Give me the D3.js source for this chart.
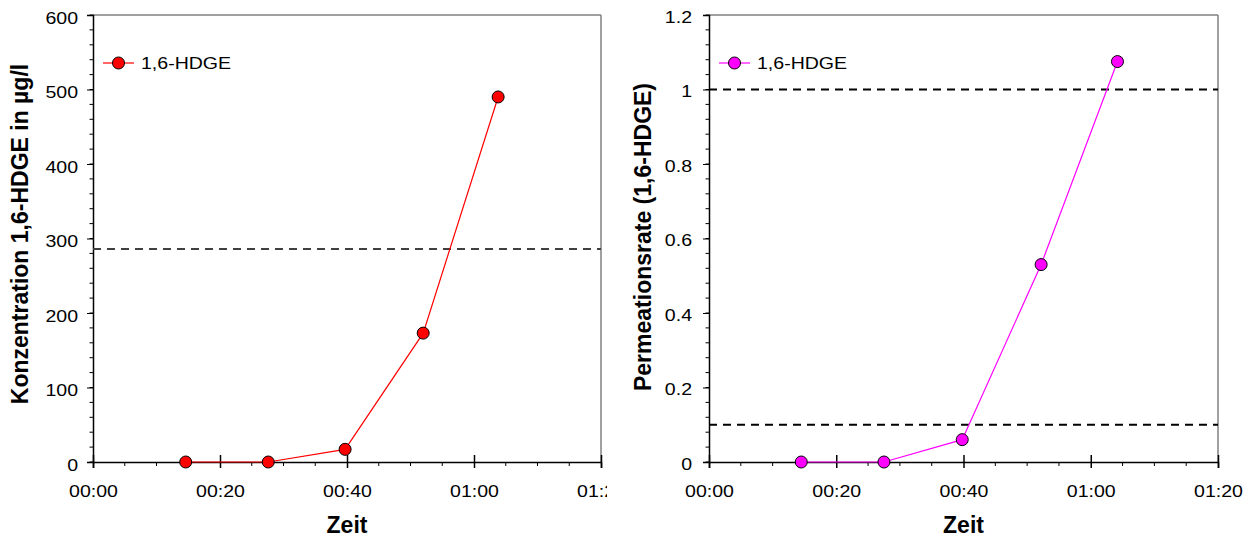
<!DOCTYPE html>
<html><head><meta charset="utf-8">
<script src="https://cdn.jsdelivr.net/npm/d3@7"></script>
<style>body{margin:0;background:#fff}svg{display:block}text{font-family:"Liberation Sans",Arial,sans-serif}</style>
</head><body>
<svg id="c" width="1256" height="538"></svg>
<script>
// Data (time in minutes)
const timesLeft = [14.6, 27.6, 39.7, 52.0, 63.8];
const concValues = [0, 0, 17, 173, 490];
const concLimit = [286];
const timesRight = [14.5, 27.5, 39.8, 52.2, 64.2];
const rateValues = [0, 0, 0.06, 0.53, 1.075];
const rateLimits = [1.0, 0.1];
const xTickValues = [0, 20, 40, 60, 80];
const xTickLabels = ["00:00", "00:20", "00:40", "01:00", "01:20"];
const leftYTicks = [0, 100, 200, 300, 400, 500, 600];
const rightYTicks = [0, 0.2, 0.4, 0.6, 0.8, 1, 1.2];
const rightYLabels = ["0", "0.2", "0.4", "0.6", "0.8", "1", "1.2"];
const seriesName = "1,6-HDGE";

const svg = d3.select("#c");
const FS = 17, SX = 1.15, TFS = 23;

function stretch(sel) {
  sel.each(function () {
    const t = d3.select(this);
    const x = +t.attr("x") || 0;
    t.attr("transform", `translate(${x},0) scale(${SX},1) translate(${-x},0)`);
  });
}

function panel(opt) {
  const g = svg.append("g");
  if (opt.clip) {
    svg.append("defs").append("clipPath").attr("id", opt.id)
      .append("rect").attr("x", 0).attr("y", 0).attr("width", opt.clip).attr("height", 538);
    g.attr("clip-path", `url(#${opt.id})`);
  }
  const x = d3.scaleLinear().domain([0, 80]).range([opt.x0, opt.x1]);
  const y = d3.scaleLinear().domain(opt.yDomain).range([opt.y1, opt.y0]);

  // frame (top/right gray)
  g.append("line").attr("x1", opt.x0).attr("x2", opt.x1).attr("y1", opt.y0).attr("y2", opt.y0).attr("stroke", "#808080").attr("stroke-width", 1.5);
  g.append("line").attr("x1", opt.x1).attr("x2", opt.x1).attr("y1", opt.y0).attr("y2", opt.y1).attr("stroke", "#808080").attr("stroke-width", 1.5);

  // y minor ticks
  const yMinor = d3.range(0, opt.yDomain[1] + 1e-9, opt.yMinorStep);
  g.selectAll(".ymin").data(yMinor).join("line")
    .attr("x1", opt.x0 - 3.5).attr("x2", opt.x0).attr("y1", d => y(d)).attr("y2", d => y(d))
    .attr("stroke", "#000").attr("stroke-width", 1);
  // y axis
  const yAxis = d3.axisLeft(y).tickValues(opt.yTicks).tickFormat((d, i) => opt.yLabels[i]).tickSize(6).tickPadding(opt.yPad);
  const ya = g.append("g").attr("transform", `translate(${opt.x0},0)`).call(yAxis);
  ya.select(".domain").attr("stroke", "#000").attr("stroke-width", 1.5);
  ya.selectAll("text").attr("font-size", FS).attr("fill", "#000").attr("dy", opt.yDy).style("font-family", "Liberation Sans, Arial").call(stretch);

  // x minor ticks
  const xMinor = d3.range(0, 81, 5).filter(d => d % 20 !== 0);
  g.selectAll(".xmin").data(xMinor).join("line")
    .attr("x1", d => x(d)).attr("x2", d => x(d)).attr("y1", opt.y1).attr("y2", opt.y1 + 4)
    .attr("stroke", "#000").attr("stroke-width", 1);
  // x axis
  const xAxis = d3.axisBottom(x).tickValues(xTickValues).tickFormat((d, i) => xTickLabels[i]).tickSize(6).tickPadding(17);
  const xa = g.append("g").attr("transform", `translate(0,${opt.y1})`).call(xAxis);
  xa.select(".domain").attr("stroke", "#000").attr("stroke-width", 1.5);
  xa.selectAll(".tick line").attr("y1", -7).attr("stroke-width", 1.5);
  xa.selectAll("text").attr("font-size", FS).attr("fill", "#000").style("font-family", "Liberation Sans, Arial").call(stretch);

  // limit lines
  g.selectAll(".lim").data(opt.limits).join("line")
    .attr("x1", opt.x0).attr("x2", opt.x1).attr("y1", d => y(d)).attr("y2", d => y(d))
    .attr("stroke", opt.limitColor).attr("stroke-width", 2).attr("stroke-dasharray", "8,6");

  // series
  const pts = opt.times.map((t, i) => [t, opt.values[i]]);
  g.append("path").datum(pts)
    .attr("d", d3.line().x(d => x(d[0])).y(d => y(d[1])))
    .attr("fill", "none").attr("stroke", opt.color).attr("stroke-width", 1.2);
  g.selectAll(".pt").data(pts).join("circle")
    .attr("cx", d => x(d[0])).attr("cy", d => y(d[1])).attr("r", 6)
    .attr("fill", opt.color).attr("stroke", "#000").attr("stroke-width", 1);

  // legend
  const lx = opt.x0 + 10, ly = 63;
  g.append("line").attr("x1", lx).attr("x2", lx + 31).attr("y1", ly).attr("y2", ly).attr("stroke", opt.color).attr("stroke-width", 1.2);
  g.append("circle").attr("cx", lx + 15.5).attr("cy", ly).attr("r", 6).attr("fill", opt.color).attr("stroke", "#000").attr("stroke-width", 1);
  g.append("text").attr("x", lx + 38).attr("y", ly).attr("dy", "0.36em").attr("font-size", FS).text(seriesName).call(stretch);

  // titles
  g.append("text").attr("x", (opt.x0 + opt.x1) / 2).attr("y", 533).attr("text-anchor", "middle")
    .attr("font-size", TFS).attr("font-weight", "bold").text("Zeit");
  g.append("text").attr("transform", `translate(${opt.titleX},${opt.titleY}) rotate(-90)`)
    .attr("text-anchor", "middle").attr("font-size", TFS).attr("font-weight", "bold").text(opt.yTitle);
}

panel({ id: "clipL", clip: 607, x0: 93, x1: 601, y0: 15, y1: 462, yDomain: [0, 600], yMinorStep: 20,
  yTicks: leftYTicks, yLabels: leftYTicks.map(String), yPad: 9, yDy: "0.48em",
  times: timesLeft, values: concValues, color: "#ff0000", limits: concLimit, limitColor: "#404040",
  yTitle: "Konzentration 1,6-HDGE in µg/l", titleX: 28, titleY: 234 });
panel({ id: "clipR", x0: 709, x1: 1218, y0: 15, y1: 462, yDomain: [0, 1.2], yMinorStep: 0.04,
  yTicks: rightYTicks, yLabels: rightYLabels, yPad: 11, yDy: "0.42em",
  times: timesRight, values: rateValues, color: "#ff00ff", limits: rateLimits, limitColor: "#000",
  yTitle: "Permeationsrate (1,6-HDGE)", titleX: 651, titleY: 237 });
</script>
</body></html>
